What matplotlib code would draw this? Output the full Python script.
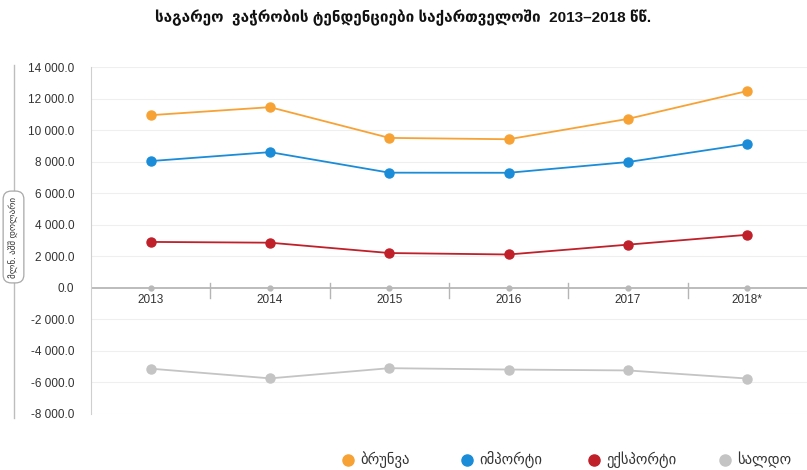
import matplotlib.pyplot as plt
from matplotlib.lines import Line2D

plt.rcParams['font.family'] = ['Liberation Sans', 'DejaVu Sans']

# Data (mln USD)
years = ['2013', '2014', '2015', '2016', '2017', '2018*']
turnover = [10946, 11453, 9505, 9420, 10712, 12478]
imports = [8036, 8602, 7300, 7294, 7975, 9115]
exports = [2910, 2861, 2205, 2113, 2737, 3363]
balance = [-5126, -5741, -5095, -5181, -5238, -5752]

series_names = ['ბრუნვა', 'იმპორტი', 'ექსპორტი', 'სალდო']
colors = ['#F7A235', '#1A8CD8', '#C0202A', '#C4C4C4']

yticks = list(range(-8000, 14001, 2000))
ytick_labels = ['{:,.1f}'.format(v).replace(',', ' ') for v in yticks]

fig = plt.figure(figsize=(8.07, 4.70), dpi=100)
ax = fig.add_axes([91 / 807, 1 - 414 / 470, 716 / 807, 347 / 470])

x = list(range(len(years)))
for vals, c in zip([turnover, imports, exports, balance], colors):
    ax.plot(x, vals, color=c, lw=1.3, marker='o', ms=6.5, mec=c, mfc=c, zorder=3)

# small grey dots sitting on the zero line
ax.plot(x, [0] * len(x), ls='none', marker='o', ms=3.5, color='#B8B8B8', zorder=3)

ax.set_xlim(-0.5, len(years) - 0.5)
ax.set_ylim(-8000, 14000)
ax.set_yticks(yticks)
ax.set_yticklabels(ytick_labels, fontsize=8.5, color='#333333')
ax.tick_params(axis='y', length=0, pad=12)
ax.set_xticks([])

for v in yticks:
    if v != 0:
        ax.axhline(v, color='#EFEFEF', lw=0.8, zorder=1)
ax.axhline(0, color='#B0B0B0', lw=1.2, zorder=2)

# category separators and year labels
for i in range(len(years)):
    if i > 0:
        ax.plot([i - 0.5, i - 0.5], [300, -650], color='#B5B5B5', lw=1, zorder=2, clip_on=False)
    ax.text(i, -780, years[i], ha='center', va='center', fontsize=8.5, color='#333333')

for s in ['top', 'right', 'bottom']:
    ax.spines[s].set_visible(False)
ax.spines['left'].set_color('#CFCFCF')

fig.text(0.5, 1 - 18 / 470, 'საგარეო  ვაჭრობის ტენდენციები საქართველოში  2013–2018 წწ.',
         ha='center', va='center', fontsize=11, fontweight='bold', color='#111111')

# y-axis caption in a rounded box on a vertical line
fig.add_artist(Line2D([14 / 807, 14 / 807], [1 - 65 / 470, 1 - 418 / 470], color='#BDBDBD', lw=1))
fig.text(13.5 / 807, 1 - 237 / 470, 'მლნ. აშშ დოლარი', rotation=90, ha='center', va='center',
         fontsize=6.5, color='#333333',
         bbox=dict(boxstyle='round,pad=0.6,rounding_size=0.9', fc='white', ec='#A8A8A8', lw=0.9))

# legend
leg_x = [348, 467, 594, 725]
for lx, name, c in zip(leg_x, series_names, colors):
    fig.add_artist(Line2D([lx / 807], [1 - 460 / 470], marker='o', ms=8, color=c, ls='none'))
    fig.text((lx + 12) / 807, 1 - 460 / 470, name, ha='left', va='center', fontsize=10.5, color='#333333')

fig.savefig('out.png', dpi=100)
